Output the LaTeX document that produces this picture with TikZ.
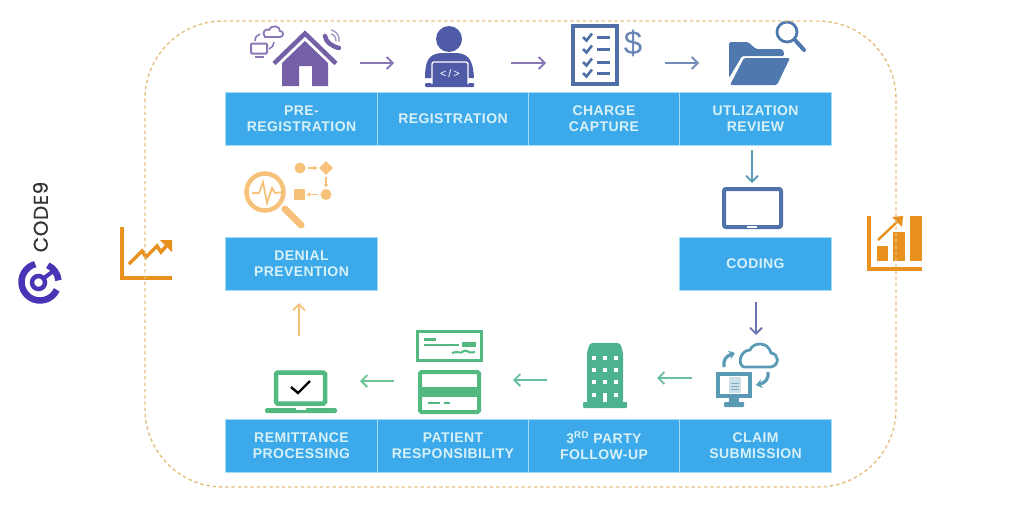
\documentclass[tikz,border=0pt]{standalone}
\usepackage{fontspec}
\setmainfont{Liberation Sans}[LetterSpace=3]
\newfontfamily\logofont{Poppins}[FakeBold=0.6,LetterSpace=3]
\usetikzlibrary{arrows.meta,shapes.geometric}
\definecolor{boxblue}{HTML}{3BA9EA}
\definecolor{boxedge}{HTML}{A5DDF6}
\definecolor{boxtext}{HTML}{D8F1F8}
\definecolor{dashline}{HTML}{E6C081}
\definecolor{homepurple}{HTML}{7560A8}
\definecolor{userblue}{HTML}{4F5BA6}
\definecolor{listblue}{HTML}{4F6FA6}
\definecolor{folderblue}{HTML}{4F78AE}
\definecolor{tabletblue}{HTML}{4F72A8}
\definecolor{claimteal}{HTML}{5A9AB5}
\definecolor{towergreen}{HTML}{4DB38F}
\definecolor{cardgreen}{HTML}{52B981}
\definecolor{deniallight}{HTML}{F6C27A}
\definecolor{chartorange}{HTML}{E8911E}
\definecolor{logopurple}{HTML}{4A33B5}
\tikzset{
  stagebox/.style={draw=boxedge,line width=0.8pt,fill=boxblue,minimum width=151.5pt,minimum height=53pt,
    inner sep=0pt,text=boxtext,align=center,font=\fontsize{14}{16}\selectfont\bfseries},
  flowarrow/.style={line width=1.8pt,-{Straight Barb[length=6pt,width=12pt,line width=1.8pt]}},
  solidmark/.style={inner sep=0pt,minimum size=#1,fill=deniallight},
  stepline/.style={deniallight,line width=1.5pt,shorten <=2pt,shorten >=1.5pt,-{Stealth[length=3.5pt,width=5pt]}},
  turnarrow/.style={claimteal,line width=3.2pt,-{Stealth[length=6pt,width=9pt]}}
}
\begin{document}
\begin{tikzpicture}[x=1pt,y=-1pt]
    \useasboundingbox (0,0) rectangle (1024,512);

    % stage boxes
    \node[stagebox] (prereg) at (301.5,118.5) {PRE-\\REGISTRATION};
    \node[stagebox] (reg) at (453,118.5) {REGISTRATION};
    \node[stagebox] (charge) at (604,118.5) {CHARGE\\CAPTURE};
    \node[stagebox] (review) at (755.5,118.5) {UTLIZATION\\REVIEW};
    \node[stagebox] (coding) at (755.5,264) {CODING};
    \node[stagebox] (denial) at (301.5,264) {DENIAL\\PREVENTION};
    \node[stagebox] (remit) at (301.5,445.5) {REMITTANCE\\PROCESSING};
    \node[stagebox] (patient) at (453,445.5) {PATIENT\\RESPONSIBILITY};
    \node[stagebox] (party) at (604,445.5) {3\textsuperscript{RD} PARTY\\FOLLOW-UP};
    \node[stagebox] (claim) at (755.5,445.5) {CLAIM\\SUBMISSION};

    % arrow ends
    \coordinate (a1) at (360,63);
    \coordinate (a2) at (394,63);
    \coordinate (b1) at (511,63);
    \coordinate (b2) at (546,63);
    \coordinate (c1) at (665,63);
    \coordinate (c2) at (699,63);
    \coordinate (d1) at (752,150);
    \coordinate (d2) at (752,183);
    \coordinate (e1) at (756,302);
    \coordinate (e2) at (756,335);
    \coordinate (f1) at (692,378);
    \coordinate (f2) at (657,378);
    \coordinate (g1) at (547,380);
    \coordinate (g2) at (513,380);
    \coordinate (h1) at (394,381);
    \coordinate (h2) at (360,381);
    \coordinate (i1) at (299,336);
    \coordinate (i2) at (299,303);

    \draw[flowarrow,color=homepurple!85] (a1) -- (a2);
    \draw[flowarrow,color=homepurple!85] (b1) -- (b2);
    \draw[flowarrow,color=listblue!80] (c1) -- (c2);
    \draw[flowarrow,color=claimteal] (d1) -- (d2);
    \draw[flowarrow,color=userblue!85] (e1) -- (e2);
    \draw[flowarrow,color=towergreen!85] (f1) -- (f2);
    \draw[flowarrow,color=towergreen!85] (g1) -- (g2);
    \draw[flowarrow,color=cardgreen!85] (h1) -- (h2);
    \draw[flowarrow,color=deniallight] (i1) -- (i2);

    % home
    \fill[homepurple] (282,63) -- (305,41) -- (328,63) -- (328,86) -- (312,86) -- (312,66) -- (299,66) -- (299,86) -- (282,86) -- cycle;
    \draw[homepurple,line width=4.5pt] (274,63.5) -- (305,33.5) -- (336,63.5);
    \draw[homepurple!85,line width=2pt,rounded corners=1pt] (251,43.5) rectangle (267,53.5);
    \draw[homepurple!85,line width=2pt] (255,57) -- (264,57);
    \draw[homepurple!85,line width=1.8pt] (265,37) .. controls (261,32) and (266,28) .. (269,30) .. controls (272,24) and (280,26) .. (280,31) .. controls (284,31) and (284,37) .. (280,37) -- cycle;
    \draw[homepurple!85,line width=1.6pt] (255,41) .. controls (255,37) and (257,35) .. (260,34);
    \draw[homepurple!85,line width=1.6pt] (274,42) .. controls (274,45) and (272,48) .. (269,49);
    \draw[homepurple,line width=4.5pt,line cap=round] (325,36) .. controls (326,42) and (331,46) .. (339,48);
    \draw[homepurple!70,line width=1.3pt] (331,34) arc (-80:10:6);
    \draw[homepurple!70,line width=1.3pt] (331,30) arc (-80:10:10);

    % user
    \fill[userblue] (449,39) circle (13);
    \fill[userblue] (425,78) .. controls (425,62) and (428,54) .. (441,53) -- (457,53) .. controls (470,54) and (473,62) .. (474,78) -- cycle;
    \fill[userblue,rounded corners=1pt] (425,83) rectangle (474,87);
    \draw[white,line width=1.3pt,rounded corners=2pt,fill=userblue] (432,84) -- (432,62) -- (468,62) -- (468,84);
    \node[inner sep=0pt,text=white,font=\fontsize{11}{11}\selectfont] (codemark) at (450,74) {<\,/\,>};

    % checklist
    \draw[listblue,line width=4.5pt] (573,26) rectangle (617,84);
    \foreach \ypos in {37,49,62,73} {
      \draw[listblue,line width=2.6pt] (583,\ypos) -- (586.5,\ypos+3.5) -- (592,\ypos-3.5);
      \draw[listblue,line width=3pt] (597,\ypos) -- (610,\ypos);
    }
    \node[inner sep=0pt,text=listblue!85,font=\fontsize{33}{33}\selectfont] (dollar) at (633,43) {\$};

    % folder
    \fill[folderblue,rounded corners=1.5pt] (729,42) -- (748,42) -- (756,49) -- (782,49) -- (784,52) -- (784,56) -- (742,56) -- (729,78) -- cycle;
    \fill[folderblue,rounded corners=1.5pt] (744,58) -- (790,58) -- (777,85) -- (730,85) -- cycle;
    \draw[folderblue,line width=2.8pt] (787,32) circle (10);
    \draw[folderblue,line width=4pt,line cap=round] (795,40) -- (804,50);

    % tablet
    \draw[tabletblue,line width=4pt,rounded corners=2pt] (724,189) rectangle (781,227);
    \fill[white] (747,226) rectangle (757,228);

    % claim
    \draw[claimteal,line width=4pt] (718,374) rectangle (750,396);
    \fill[claimteal] (729,397) rectangle (739,402);
    \fill[claimteal,rounded corners=1pt] (724,402) rectangle (744,407);
    \fill[claimteal!30] (729,377) rectangle (741,393);
    \foreach \ypos in {383,386,389} {
      \draw[claimteal!80,line width=0.7pt] (731,\ypos) -- (739,\ypos);
    }
    \draw[claimteal,line width=2.8pt] (744,367) -- (771,367) .. controls (780,365) and (779,354) .. (771,353) .. controls (768,341) and (753,342) .. (750,350) .. controls (740,350) and (737,365) .. (744,367) -- cycle;
    \draw[turnarrow] (724,367) .. controls (723,360) and (726,356) .. (735,353);
    \draw[turnarrow] (768,372) .. controls (769,379) and (765,383) .. (756,385);

    % tower
    \fill[towergreen,rounded corners=2pt] (587,403) -- (587,352) -- (590,343) -- (620,343) -- (623,352) -- (623,403) -- cycle;
    \fill[towergreen,rounded corners=1pt] (583,402) rectangle (627,408);
    \foreach \ypos in {358,370,382,395} {
      \foreach \xpos in {593.5,604.5,616} {
        \fill[white] (\xpos-2,\ypos-2) rectangle (\xpos+2,\ypos+2);
      }
    }
    \fill[white] (602.5,393) rectangle (606.5,402);

    % cheque and card
    \draw[cardgreen,line width=3.5pt] (417.5,331.5) rectangle (481.5,360.5);
    \draw[cardgreen,line width=2.6pt] (424,339.5) -- (436,339.5);
    \draw[cardgreen,line width=2.6pt] (424,345) -- (459,345);
    \fill[cardgreen] (462,342) rectangle (476,347);
    \draw[cardgreen,line width=2pt] (452,353) .. controls (458,350) and (460,355) .. (464,351) .. controls (467,349) and (467,354) .. (475,352);
    \draw[cardgreen,line width=4pt,rounded corners=1.5pt,fill=white] (420,372) rectangle (479,412);
    \fill[cardgreen] (420,387) rectangle (479,397);
    \draw[cardgreen,line width=2.6pt] (428,403) -- (440,403);
    \draw[cardgreen,line width=2.6pt] (444,403) -- (450,403);

    % laptop
    \draw[cardgreen,line width=4.5pt,rounded corners=1.5pt] (276,372.5) rectangle (325,403.5);
    \fill[cardgreen,rounded corners=1.5pt] (265,408) rectangle (337,413);
    \fill[white] (296,408) rectangle (306,410);
    \draw[black,line width=2.4pt] (291,387) -- (298,393) -- (310,381);

    % denial
    \draw[deniallight,line width=4.5pt] (265,192) circle (18.5);
    \draw[deniallight,line width=7pt,line cap=round] (285,209) -- (301,225);
    \draw[deniallight,line width=1.8pt] (252,193) -- (259,193) -- (263,182) -- (267,203) -- (272,188) -- (275,193) -- (284,192);
    \node[solidmark=11pt,circle] (flowa) at (300,168) {};
    \node[solidmark=14pt,diamond,shape aspect=1] (flowb) at (326,168) {};
    \node[solidmark=11pt] (flowd) at (299.5,194.5) {};
    \node[solidmark=11pt,circle] (flowc) at (326,194.5) {};
    \draw[stepline] (flowa) -- (flowb);
    \draw[stepline] (flowb) -- (flowc);
    \draw[stepline] (flowc) -- (flowd);

    % charts
    \draw[chartorange,line width=4pt] (121.5,227) -- (121.5,277.5) -- (172,277.5);
    \draw[chartorange,line width=3.5pt] (129,264) -- (142,251) -- (146,257) -- (157,246) -- (161,252) -- (168,244);
    \fill[chartorange] (160,240) -- (172,240) -- (172,252) -- cycle;
    \draw[chartorange,line width=4pt] (869,216) -- (869,269) -- (922,269);
    \fill[chartorange] (877,246) rectangle (888,261);
    \fill[chartorange] (893,232) rectangle (905,261);
    \fill[chartorange] (910,216) rectangle (922,261);
    \draw[chartorange,line width=2.4pt] (878,240) -- (899,220);
    \fill[chartorange] (892,217) -- (903,216) -- (902,227) -- cycle;

    % logo
    \node[rotate=90,inner sep=0pt,text=black!80,font=\logofont\fontsize{20}{20}\selectfont] (brand) at (40.5,217) {CODE9};
    \draw[logopurple,line width=6.5pt] (40,282) ++(-105:18.5) arc (-105:-335:18.5);
    \draw[logopurple,line width=6.5pt] (40,282) ++(-65:18.5) arc (-65:-5:18.5);
    \draw[logopurple,line width=4.5pt] (38.5,282.5) circle (6.5);
    \draw[logopurple,line width=4pt] (44,278) -- (52,272);

    % outline
    \draw[dashline,line width=1.4pt,dashed,dash pattern=on 3.5pt off 2.8pt,rounded corners=78pt] (145,21) rectangle (896,487);
  \end{tikzpicture}
\end{document}
